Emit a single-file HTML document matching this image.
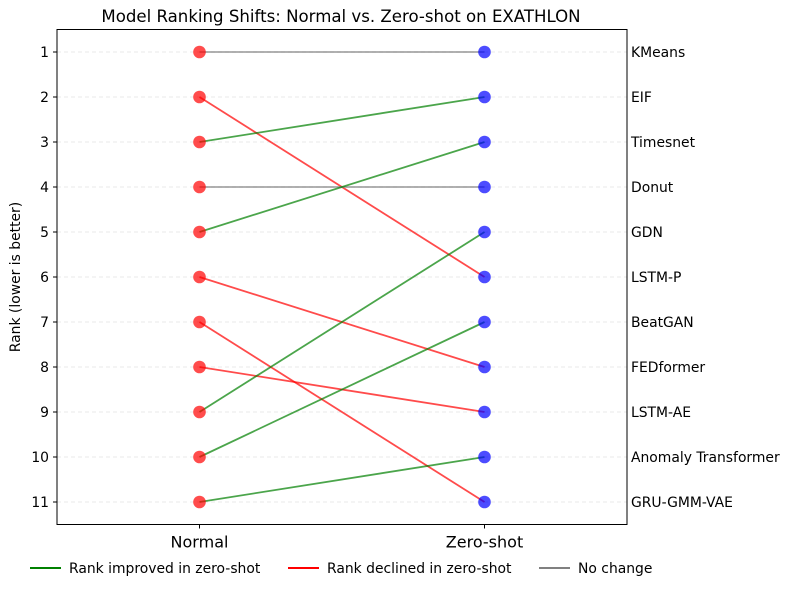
<!DOCTYPE html>
<html><head><meta charset="utf-8"><style>
body{margin:0;background:#fff;}
svg{display:block;font-family:"DejaVu Sans","Liberation Sans",sans-serif;}
</style></head><body>
<svg id="chart" width="790" height="591">
<text x="341" y="22" text-anchor="middle" font-size="16.6">Model Ranking Shifts: Normal vs. Zero-shot on EXATHLON</text>
<text transform="translate(20,277) rotate(-90)" text-anchor="middle" font-size="13.9">Rank (lower is better)</text>
<g id="grid"></g><g id="lines"></g><g id="points"></g><g id="axes"></g>
<g>
<g><line x1="30" y1="568" x2="61" y2="568" stroke="green" stroke-width="2"/><text x="69" y="573" font-size="13.9">Rank improved in zero-shot</text></g>
<g><line x1="288" y1="568" x2="319" y2="568" stroke="red" stroke-width="2"/><text x="327" y="573" font-size="13.9">Rank declined in zero-shot</text></g>
<g><line x1="539" y1="568" x2="570" y2="568" stroke="gray" stroke-width="2"/><text x="578" y="573" font-size="13.9">No change</text></g>
</g>
</svg>
<script>
const models=["KMeans","LSTM-P","EIF","Donut","Timesnet","FEDformer","GRU-GMM-VAE","LSTM-AE","GDN","BeatGAN","Anomaly Transformer"];
const normalRanks=[1,2,3,4,5,6,7,8,9,10,11];
const zeroShotRanks=[1,6,2,4,3,8,11,9,5,7,10];
const yTicks=[1,2,3,4,5,6,7,8,9,10,11];
const xCategories=["Normal","Zero-shot"];
const NS="http://www.w3.org/2000/svg";
const L=57,R=627,T=29.5,B=524.5;
const x=i=>L+(i+0.5)/2*(R-L);
const y=r=>T+(r-0.5)/11*(B-T);
function mk(tag,attrs,parent){const e=document.createElementNS(NS,tag);for(const k in attrs)e.setAttribute(k,attrs[k]);parent.appendChild(e);return e;}
const g=document.getElementById('grid'),ln=document.getElementById('lines'),pt=document.getElementById('points'),ax=document.getElementById('axes');
yTicks.forEach(t=>{
 const gl=mk('line',{x1:L,x2:R,y1:y(t),y2:y(t),stroke:'#ccc','stroke-dasharray':'4,3','stroke-width':0.7,opacity:0.6},g);
 
 
 mk('line',{x1:L-4,x2:L,y1:y(t),y2:y(t),stroke:'#000'},ax);
 const tx=mk('text',{x:L-8,y:y(t)+5,'text-anchor':'end','font-size':13.9},ax);tx.textContent=t;
 
 
});
models.forEach((m,i)=>{
 const a=normalRanks[i],b=zeroShotRanks[i];
 const col=b<a?'green':(b>a?'red':'gray');
 const l=mk('line',{x1:x(0),y1:y(a),x2:x(1),y2:y(b),stroke:col,'stroke-width':1.8,opacity:0.7},ln);
 
 
 const p1=mk('circle',{cx:x(0),cy:y(a),r:6.3,fill:'red',opacity:0.7},pt);
 
 
 const p2=mk('circle',{cx:x(1),cy:y(b),r:6.3,fill:'blue',opacity:0.7},pt);
 
 
 const lab=mk('text',{x:R+4,y:y(b)+5,'font-size':13.9},ax);lab.textContent=m;
 
 
});
xCategories.forEach((c,i)=>{
 mk('line',{x1:x(i),x2:x(i),y1:B,y2:B+4,stroke:'#000'},ax);
 const t=mk('text',{x:x(i),y:B+23,'text-anchor':'middle','font-size':16},ax);t.textContent=c;
 
 
});
const fr=mk('rect',{x:L,y:T,width:R-L,height:B-T,fill:'none',stroke:'#000','stroke-width':1},ax);


</script>
</body></html>
